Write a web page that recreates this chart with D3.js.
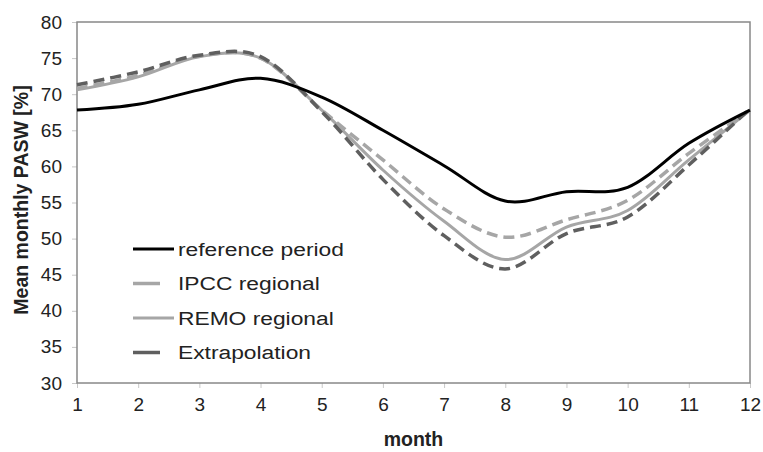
<!DOCTYPE html>
<html>
<head>
<meta charset="utf-8">
<script src="https://cdn.jsdelivr.net/npm/d3@7"></script>
<style>
  body { margin: 0; background: #fff; }
  text { font-family: "Liberation Sans", Arial, sans-serif; fill: #222; }
</style>
</head>
<body>
<div id="chart"></div>
<script>
// monthly mean PASW values
var months = [1, 2, 3, 4, 5, 6, 7, 8, 9, 10, 11, 12];
var reference = [67.8, 68.6, 70.6, 72.2, 69.6, 65.0, 60.1, 55.2, 56.5, 57.1, 63.2, 67.8];
var ipcc      = [70.8, 72.6, 75.3, 75.0, 67.8, 60.9, 54.1, 50.2, 52.6, 55.3, 61.8, 67.8];
var remo      = [70.6, 72.4, 75.2, 75.0, 67.8, 59.5, 52.4, 47.1, 51.6, 53.9, 60.9, 67.8];
var extrap    = [71.3, 73.1, 75.4, 75.2, 67.6, 58.2, 50.4, 45.8, 50.7, 53.0, 60.2, 68.0];
var yTicks = [30, 35, 40, 45, 50, 55, 60, 65, 70, 75, 80];

var series = [
  {name: "reference period", values: reference, color: "#000", width: 3, dash: null, legendLen: 41},
  {name: "IPCC regional", values: ipcc, color: "#a6a6a6", width: 3.5, dash: "11,6", legendLen: 27},
  {name: "REMO regional", values: remo, color: "#a6a6a6", width: 3, dash: null, legendLen: 41},
  {name: "Extrapolation", values: extrap, color: "#5f5f5f", width: 3.5, dash: "11,6", legendLen: 27}
];

var width = 763, height = 452;
var margin = {top: 22, right: 13, bottom: 69, left: 77};

var svg = d3.select("#chart").append("svg")
    .attr("width", width)
    .attr("height", height);

var x = d3.scaleLinear().domain([1, 12]).range([margin.left, width - margin.right]);
var y = d3.scaleLinear().domain([30, 80]).range([height - margin.bottom, margin.top]);

// y axis ticks + labels
var yAxis = svg.append("g")
    .attr("transform", "translate(" + margin.left + ",0)")
    .call(d3.axisLeft(y).tickValues(yTicks).tickSize(5).tickPadding(10));
yAxis.select(".domain").remove();
yAxis.selectAll("line").attr("stroke", "#c8c8c8");
yAxis.selectAll("text").style("font-size", "19px").attr("fill", "#222");

// x axis
var xAxis = svg.append("g")
    .attr("transform", "translate(0," + (height - margin.bottom) + ")")
    .call(d3.axisBottom(x).tickValues(months).tickSize(5).tickPadding(10));
xAxis.select(".domain").remove();
xAxis.selectAll("line").attr("stroke", "#c8c8c8");
xAxis.selectAll("text").style("font-size", "19px").attr("fill", "#222");

// frame
svg.append("rect")
    .attr("x", margin.left)
    .attr("y", margin.top)
    .attr("width", width - margin.left - margin.right)
    .attr("height", height - margin.top - margin.bottom)
    .attr("fill", "none")
    .attr("stroke", "#888")
    .attr("stroke-width", 1.5);

var line = d3.line()
    .x(function(d, i) { return x(months[i]); })
    .y(function(d) { return y(d); })
    .curve(d3.curveCardinal.tension(0));

// draw back to front so black stays on top
[series[2], series[1], series[3], series[0]].forEach(function(s) {
  svg.append("path")
      .attr("d", line(s.values))
      .attr("fill", "none")
      .attr("stroke", s.color)
      .attr("stroke-width", s.width)
      .attr("stroke-dasharray", s.dash);
});

// legend
var legend = svg.append("g").attr("transform", "translate(133,249)");
series.forEach(function(s, i) {
  var g = legend.append("g").attr("transform", "translate(0," + (i * 34.5) + ")");
  g.append("line")
      .attr("x1", 0).attr("x2", s.legendLen)
      .attr("stroke", s.color)
      .attr("stroke-width", s.width);
  // legend text in the original is noticeably wide, stretch it a bit
  g.append("text")
      .attr("transform", "translate(45,0) scale(1.2,1)")
      .attr("dy", "0.35em")
      .style("font-size", "19px")
      .text(s.name);
});

// axis titles
svg.append("text")
    .attr("x", (margin.left + width - margin.right) / 2)
    .attr("y", 446)
    .attr("text-anchor", "middle")
    .style("font-size", "19.5px")
    .style("font-weight", "bold")
    .text("month");

svg.append("text")
    .attr("transform", "translate(28,200) rotate(-90)")
    .attr("text-anchor", "middle")
    .style("font-size", "19.5px")
    .style("font-weight", "bold")
    .text("Mean monthly PASW [%]");
</script>
</body>
</html>
